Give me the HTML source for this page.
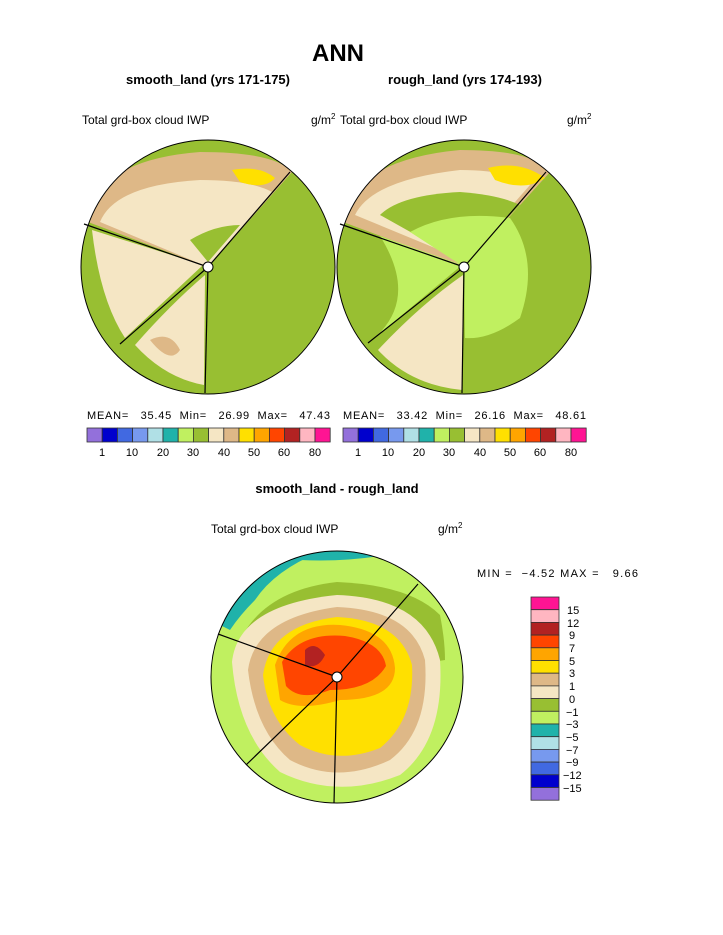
<!DOCTYPE html>
<html><head><style>
body{margin:0;background:#fff;}
svg{display:block;font-family:"Liberation Sans",sans-serif;}
text{white-space:pre;}
</style></head><body>
<svg width="723" height="935" viewBox="0 0 723 935">
<defs>
<clipPath id="c1"><circle cx="208" cy="267" r="127"/></clipPath>
<clipPath id="c2"><circle cx="464" cy="267" r="127"/></clipPath>
<clipPath id="c3"><circle cx="337" cy="677" r="126"/></clipPath>
</defs>
<text x="338" y="61" font-size="24" font-weight="bold" text-anchor="middle">ANN</text>
<text x="208" y="84" font-size="13" font-weight="bold" text-anchor="middle">smooth_land (yrs 171-175)</text>
<text x="465" y="84" font-size="13" font-weight="bold" text-anchor="middle">rough_land (yrs 174-193)</text>
<text x="82" y="124" font-size="12">Total grd-box cloud IWP</text>
<text x="311" y="124" font-size="12">g/m<tspan font-size="8" dy="-5">2</tspan></text>
<text x="340" y="124" font-size="12">Total grd-box cloud IWP</text>
<text x="567" y="124" font-size="12">g/m<tspan font-size="8" dy="-5">2</tspan></text>

<!-- left circle -->
<g clip-path="url(#c1)">
<rect x="80" y="140" width="256" height="254" fill="#98BF32"/>
<path d="M88,222 Q95,160 200,152 Q275,152 292,172 L208,267 Z" fill="#DEB887"/>
<path d="M100,222 Q115,185 200,180 Q250,180 272,192 L208,267 Z" fill="#F5E6C4"/>
<path d="M190,240 Q215,225 240,225 L208,262 Z" fill="#98BF32"/>
<path d="M92,230 L203,265 L125,338 Q100,300 92,230 Z" fill="#F5E6C4"/>
<path d="M135,345 Q170,305 205,275 L204,385 Q165,378 135,345 Z" fill="#F5E6C4"/>
<path d="M150,340 Q170,330 180,350 Q170,365 150,340 Z" fill="#DEB887"/>
<path d="M232,170 Q260,165 275,178 Q265,190 240,182 Z" fill="#FFE000"/>
</g>
<circle cx="208" cy="267" r="127" fill="none" stroke="#000" stroke-width="1"/>
<g stroke="#000" stroke-width="1.2"><line x1="208" y1="267" x2="290" y2="172"/><line x1="208" y1="267" x2="84" y2="224"/><line x1="208" y1="267" x2="120" y2="344"/><line x1="208" y1="267" x2="205" y2="393"/></g>
<circle cx="208" cy="267" r="5" fill="#fff" stroke="#000"/>

<!-- right circle -->
<g clip-path="url(#c2)">
<rect x="336" y="140" width="256" height="254" fill="#98BF32"/>
<path d="M343,222 Q352,160 460,150 Q535,150 550,172 L464,267 Z" fill="#DEB887"/>
<path d="M355,215 Q372,180 460,170 Q510,170 530,185 L464,260 Z" fill="#F5E6C4"/>
<path d="M380,215 Q400,195 460,192 Q500,195 520,205 L464,262 Z" fill="#98BF32"/>
<path d="M410,232 Q450,210 510,218 Q540,260 520,318 Q490,340 465,338 L464,267 Z" fill="#C0F060"/>
<path d="M380,236 L462,265 L372,340 Q420,300 380,236 Z" fill="#C0F060"/>
<path d="M378,350 Q420,305 463,275 L462,390 Q410,385 378,350 Z" fill="#F5E6C4"/>
<path d="M488,168 Q520,160 545,178 Q525,192 495,180 Z" fill="#FFE000"/>
</g>
<circle cx="464" cy="267" r="127" fill="none" stroke="#000"/>
<g stroke="#000" stroke-width="1.2"><line x1="464" y1="267" x2="546" y2="172"/><line x1="464" y1="267" x2="340" y2="224"/><line x1="464" y1="267" x2="368" y2="343"/><line x1="464" y1="267" x2="462" y2="393"/></g>
<circle cx="464" cy="267" r="5" fill="#fff" stroke="#000"/>

<!-- colorbars -->
<g font-size="11" fill="#000">
<text x="87" y="419" textLength="243" lengthAdjust="spacing">MEAN=   35.45  Min=   26.99  Max=   47.43</text>
<text x="343" y="419" textLength="243" lengthAdjust="spacing">MEAN=   33.42  Min=   26.16  Max=   48.61</text>
</g>
<g stroke="#333" stroke-width="0.8" id="cb1">
<rect x="87" y="428" width="15.2" height="14" fill="#9370DB"/><rect x="102.2" y="428" width="15.2" height="14" fill="#0000CD"/><rect x="117.4" y="428" width="15.2" height="14" fill="#4169E1"/><rect x="132.6" y="428" width="15.2" height="14" fill="#7799EE"/><rect x="147.8" y="428" width="15.2" height="14" fill="#B0E0E6"/><rect x="163" y="428" width="15.2" height="14" fill="#20B2AA"/><rect x="178.2" y="428" width="15.2" height="14" fill="#C0F060"/><rect x="193.4" y="428" width="15.2" height="14" fill="#98BF32"/><rect x="208.6" y="428" width="15.2" height="14" fill="#F5E6C4"/><rect x="223.8" y="428" width="15.2" height="14" fill="#DEB887"/><rect x="239" y="428" width="15.2" height="14" fill="#FFE000"/><rect x="254.2" y="428" width="15.2" height="14" fill="#FFA500"/><rect x="269.4" y="428" width="15.2" height="14" fill="#FF4500"/><rect x="284.6" y="428" width="15.2" height="14" fill="#B22222"/><rect x="299.8" y="428" width="15.2" height="14" fill="#FFB6C1"/><rect x="315" y="428" width="15.2" height="14" fill="#FF1493"/>
</g>
<use href="#cb1" x="256"/>
<g font-size="11" text-anchor="middle">
<text x="102" y="456">1</text><text x="132" y="456">10</text><text x="163" y="456">20</text><text x="193" y="456">30</text><text x="224" y="456">40</text><text x="254" y="456">50</text><text x="284" y="456">60</text><text x="315" y="456">80</text>
<text x="358" y="456">1</text><text x="388" y="456">10</text><text x="419" y="456">20</text><text x="449" y="456">30</text><text x="480" y="456">40</text><text x="510" y="456">50</text><text x="540" y="456">60</text><text x="571" y="456">80</text>
</g>

<text x="337" y="493" font-size="13" font-weight="bold" text-anchor="middle">smooth_land - rough_land</text>
<text x="211" y="533" font-size="12">Total grd-box cloud IWP</text>
<text x="438" y="533" font-size="12">g/m<tspan font-size="8" dy="-5">2</tspan></text>
<text x="477" y="577" font-size="11" textLength="161" lengthAdjust="spacing">MIN =  −4.52 MAX =   9.66</text>

<!-- bottom circle -->
<g clip-path="url(#c3)">
<rect x="210" y="550" width="256" height="254" fill="#C0F060"/>
<path d="M220,625 Q245,565 320,552 Q275,570 255,600 Q240,615 230,630 Z" fill="#20B2AA"/>
<path d="M300,553 Q340,548 380,556 Q340,562 300,560 Z" fill="#20B2AA"/>
<path d="M240,640 Q265,590 337,582 Q410,585 440,615 Q445,640 445,660 L337,677 Z" fill="#98BF32"/>
<path d="M232,662 Q238,605 337,595 Q425,598 440,660 Q445,740 400,775 Q337,800 280,772 Q238,735 232,662 Z" fill="#F5E6C4"/>
<path d="M248,670 Q255,618 337,607 Q412,610 425,660 Q430,730 390,760 Q337,785 290,760 Q255,730 248,670 Z" fill="#DEB887"/>
<path d="M263,675 Q270,625 337,617 Q400,620 412,665 Q415,720 380,748 Q337,765 300,745 Q268,720 263,675 Z" fill="#FFE000"/>
<path d="M275,665 Q290,622 340,625 Q392,630 395,668 Q395,700 340,700 Q300,712 280,700 Z" fill="#FFA500"/>
<path d="M282,662 Q300,632 345,636 Q382,642 386,666 Q372,690 330,690 Q300,702 286,686 Z" fill="#FF4500"/>
<path d="M305,650 Q315,640 325,655 Q318,670 305,665 Z" fill="#B22222"/>
</g>
<circle cx="337" cy="677" r="126" fill="none" stroke="#000"/>
<g stroke="#000" stroke-width="1.2"><line x1="337" y1="677" x2="418" y2="584"/><line x1="337" y1="677" x2="218" y2="634"/><line x1="337" y1="677" x2="246" y2="765"/><line x1="337" y1="677" x2="334" y2="803"/></g>
<circle cx="337" cy="677" r="5" fill="#fff" stroke="#000"/>

<!-- vertical colorbar -->
<g stroke="#333" stroke-width="0.8">
<rect x="531" y="597" width="28" height="12.7" fill="#FF1493"/><rect x="531" y="609.7" width="28" height="12.7" fill="#FFB6C1"/><rect x="531" y="622.4" width="28" height="12.7" fill="#B22222"/><rect x="531" y="635.1" width="28" height="12.7" fill="#FF4500"/><rect x="531" y="647.8" width="28" height="12.7" fill="#FFA500"/><rect x="531" y="660.5" width="28" height="12.7" fill="#FFE000"/><rect x="531" y="673.2" width="28" height="12.7" fill="#DEB887"/><rect x="531" y="685.9" width="28" height="12.7" fill="#F5E6C4"/><rect x="531" y="698.6" width="28" height="12.7" fill="#98BF32"/><rect x="531" y="711.3" width="28" height="12.7" fill="#C0F060"/><rect x="531" y="724" width="28" height="12.7" fill="#20B2AA"/><rect x="531" y="736.7" width="28" height="12.7" fill="#B0E0E6"/><rect x="531" y="749.4" width="28" height="12.7" fill="#7799EE"/><rect x="531" y="762.1" width="28" height="12.7" fill="#4169E1"/><rect x="531" y="774.8" width="28" height="12.7" fill="#0000CD"/><rect x="531" y="787.5" width="28" height="12.7" fill="#9370DB"/>
</g>
<g font-size="11">
<text x="567" y="614">15</text><text x="567" y="627">12</text><text x="569" y="639">9</text><text x="569" y="652">7</text><text x="569" y="665">5</text><text x="569" y="677">3</text><text x="569" y="690">1</text><text x="569" y="703">0</text><text x="566" y="716">−1</text><text x="566" y="728">−3</text><text x="566" y="741">−5</text><text x="566" y="754">−7</text><text x="566" y="766">−9</text><text x="563" y="779">−12</text><text x="563" y="792">−15</text>
</g>
</svg>
</body></html>
